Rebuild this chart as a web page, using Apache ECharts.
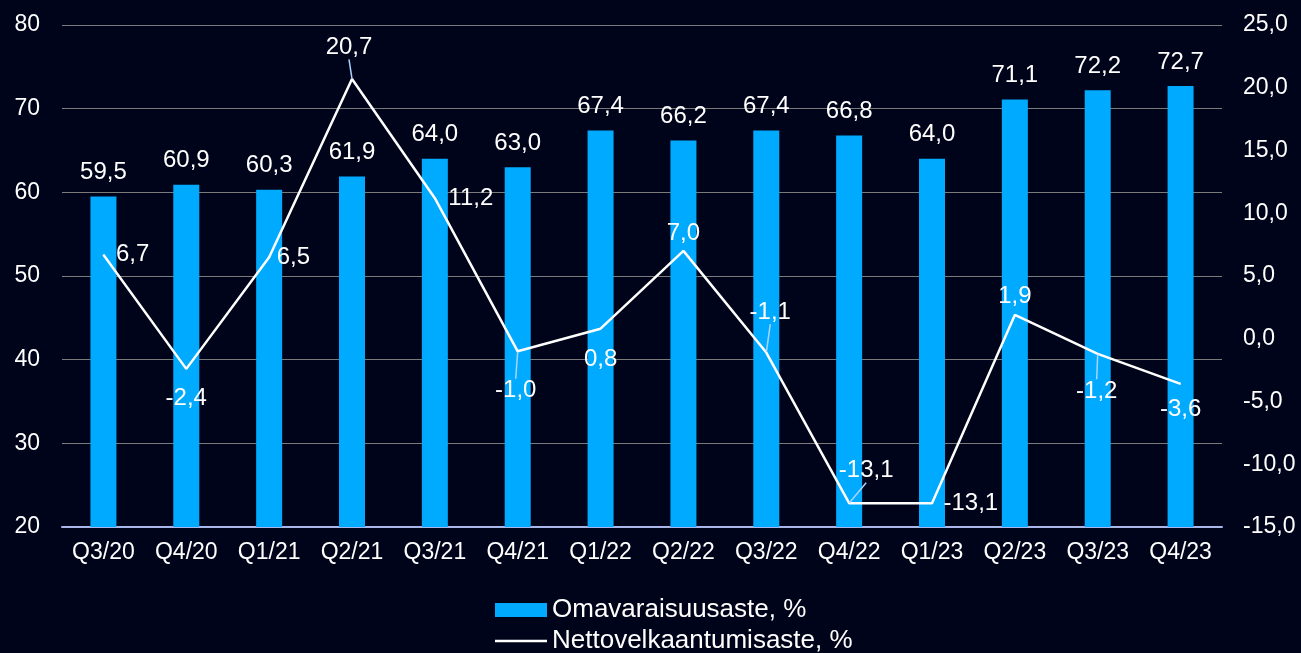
<!DOCTYPE html>
<html>
<head>
<meta charset="utf-8">
<script src="https://cdn.jsdelivr.net/npm/echarts@6/dist/echarts.min.js"></script>
<style>
html,body{margin:0;padding:0;background:#00041a;}
#c{width:1301px;height:653px;}
</style>
</head>
<body>
<div id="c"></div>
<script>
const categories = ['Q3/20','Q4/20','Q1/21','Q2/21','Q3/21','Q4/21','Q1/22','Q2/22','Q3/22','Q4/22','Q1/23','Q2/23','Q3/23','Q4/23'];
const equityRatio = [59.5, 60.9, 60.3, 61.9, 64.0, 63.0, 67.4, 66.2, 67.4, 66.8, 64.0, 71.1, 72.2, 72.7];
const gearing = [6.7, -2.4, 6.5, 20.7, 11.2, -1.0, 0.8, 7.0, -1.1, -13.1, -13.1, 1.9, -1.2, -3.6];
const leftTicks = {min: 20, max: 80, interval: 10};
const rightTicks = {min: -15, max: 25, interval: 5};
const seriesNames = ['Omavaraisuusaste, %', 'Nettovelkaantumisaste, %'];

// label placement (styling only)
const gearingLabelStyle = [
  {position:'right', distance:12, offset:[0,5]},
  {position:'bottom', distance:17},
  {position:'right', distance:7, offset:[0,14]},
  {position:'top', distance:5},
  {position:'right', distance:13, offset:[0,5]},
  {position:'bottom', distance:5},
  {position:'bottom', distance:18, offset:[5,0]},
  {position:'top', distance:5},
  {position:'top', distance:5},
  {position:'top', distance:5},
  {position:'right', distance:11, offset:[0,-5]},
  {position:'top', distance:6},
  {position:'bottom', distance:5},
  {position:'bottom', distance:13}
];
const leaderMoves = {3:[-3,-14], 5:[-2,22], 8:[4,-23], 9:[17,-15], 12:[-1,20]};

const fmt = v => v.toFixed(1).replace('.', ',');
const font = 'Liberation Sans, Arial, sans-serif';

const chart = echarts.init(document.getElementById('c'));
chart.setOption({
  backgroundColor: '#00041a',
  animation: false,
  textStyle: {fontFamily: font},
  grid: {left: 62, right: 79, top: 25, bottom: 126},
  legend: [
    {
      left: 495, top: 597, padding: 0,
      itemWidth: 52, itemHeight: 14, icon: 'rect',
      textStyle: {color: '#ffffff', fontSize: 26, fontFamily: font},
      data: [seriesNames[0]]
    },
    {
      left: 495, top: 628, padding: 0,
      itemWidth: 52, itemHeight: 2.5, icon: 'rect',
      itemStyle: {color: '#ffffff'},
      textStyle: {color: '#ffffff', fontSize: 26, fontFamily: font},
      data: [seriesNames[1]]
    }
  ],
  xAxis: {
    type: 'category',
    data: categories,
    axisTick: {show: false},
    axisLine: {onZero: false, lineStyle: {color: '#aab6ea', width: 2}},
    axisLabel: {color: '#ffffff', fontSize: 23, margin: 14, fontFamily: font}
  },
  yAxis: [
    {
      type: 'value', min: leftTicks.min, max: leftTicks.max, interval: leftTicks.interval,
      axisLine: {show: false}, axisTick: {show: false},
      axisLabel: {color: '#ffffff', fontSize: 23, margin: 22, fontFamily: font},
      splitLine: {lineStyle: {color: '#7a7a7a', width: 1}}
    },
    {
      type: 'value', min: rightTicks.min, max: rightTicks.max, interval: rightTicks.interval,
      position: 'right',
      axisLine: {show: false}, axisTick: {show: false},
      axisLabel: {color: '#ffffff', fontSize: 23, margin: 21, fontFamily: font, formatter: v => fmt(v)},
      splitLine: {show: false}
    }
  ],
  series: [
    {
      name: seriesNames[0],
      type: 'bar',
      data: equityRatio,
      barWidth: 26,
      itemStyle: {color: '#00aaff'},
      label: {show: true, position: 'top', distance: 12, color: '#ffffff', fontSize: 24, fontFamily: font, formatter: p => fmt(p.value)}
    },
    {
      name: seriesNames[1],
      type: 'line',
      yAxisIndex: 1,
      data: gearing.map((v, i) => ({
        value: v,
        label: gearingLabelStyle[i],
        labelLine: {show: leaderMoves[i] !== undefined}
      })),
      symbol: 'circle',
      symbolSize: 1,
      showSymbol: true,
      lineStyle: {color: '#ffffff', width: 2.5},
      itemStyle: {color: '#ffffff'},
      label: {show: true, color: '#ffffff', fontSize: 24, fontFamily: font, formatter: p => fmt(p.value)},
      labelLine: {show: false, smooth: false, length2: 0, lineStyle: {color: '#a8d4ff', width: 1.5}},
      labelLayout: p => {
        const m = leaderMoves[p.dataIndex];
        return m ? {dx: m[0], dy: m[1]} : {};
      }
    }
  ]
});
</script>
</body>
</html>
